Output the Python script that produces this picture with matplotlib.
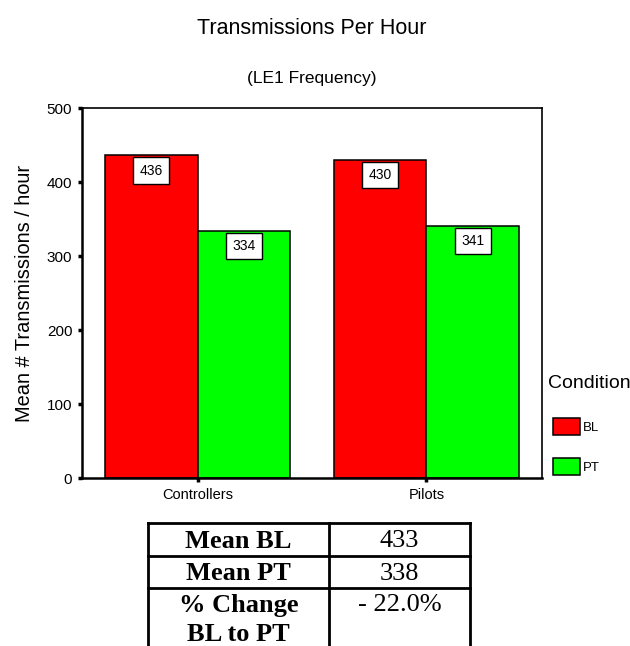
import numpy as np
import matplotlib
matplotlib.use('Agg')
import matplotlib.pyplot as plt
from matplotlib.patches import Rectangle

plt.rcParams['font.family'] = ['Liberation Sans', 'DejaVu Sans']

# 数据
groups = ['Controllers', 'Pilots']
conditions = ['BL', 'PT']
bl_values = [436, 430]
pt_values = [334, 341]
colors = ['#ff0000', '#00ff00']

table_labels = ['Mean BL', 'Mean PT', '% Change\nBL to PT']
table_values = ['433', '338', '- 22.0%']

fig = plt.figure(figsize=(6.3, 6.46), dpi=100)
W, H = 630, 646

# 主图
ax = fig.add_axes([82 / W, 1 - 478 / H, 460 / W, 370 / H])
x = np.arange(len(groups))
width = 0.405
bars1 = ax.bar(x - width / 2, bl_values, width, color=colors[0], edgecolor='black', linewidth=1.1, label=conditions[0])
bars2 = ax.bar(x + width / 2, pt_values, width, color=colors[1], edgecolor='black', linewidth=1.1, label=conditions[1])

for bars in (bars1, bars2):
    for b in bars:
        ax.annotate(f'{b.get_height():.0f}', (b.get_x() + b.get_width() / 2, b.get_height()),
                    xytext=(0, -11), textcoords='offset points', ha='center', va='center',
                    fontsize=10,
                    bbox=dict(boxstyle='square,pad=0.45', fc='white', ec='black', lw=1))

ax.set_xlim(-0.505, 1.505)
ax.set_ylim(0, 500)
ax.set_yticks([0, 100, 200, 300, 400, 500])
ax.set_xticks(x)
ax.set_xticklabels(groups, fontsize=10.5)
ax.tick_params(axis='y', direction='out', length=3, width=2.5, labelsize=11, pad=4)
ax.tick_params(axis='x', direction='out', length=3, width=2.5, pad=4)
for s in ax.spines.values():
    s.set_linewidth(1.2)
ax.spines['left'].set_linewidth(1.8)
ax.spines['bottom'].set_linewidth(1.8)
ax.set_ylabel('Mean # Transmissions / hour', fontsize=14.4, labelpad=9)

# 标题
fig.text(312 / W, 1 - 28 / H, 'Transmissions Per Hour', ha='center', va='center', fontsize=15.5)
fig.text(312 / W, 1 - 78 / H, '(LE1 Frequency)', ha='center', va='center', fontsize=12.5)

# 图例 (手动)
fig.text(548 / W, 1 - 383 / H, 'Condition', ha='left', va='center', fontsize=14)
leg_y = [418, 458]
for c, lab, yy in zip(colors, conditions, leg_y):
    fig.patches.append(Rectangle((553 / W, 1 - (yy + 17) / H), 27 / W, 17 / H,
                                 transform=fig.transFigure, facecolor=c,
                                 edgecolor='black', linewidth=1.1))
    fig.text(583 / W, 1 - (yy + 10) / H, lab, ha='left', va='center', fontsize=9.5)

# 表格
tax = fig.add_axes([0, 0, 1, 1])
tax.set_xlim(0, W)
tax.set_ylim(H, 0)
tax.axis('off')
col_x = [148, 329, 470]
row_y = [523, 556, 588, 660]
lw = 2
for yy in row_y[:-1]:
    tax.plot([col_x[0], col_x[-1]], [yy, yy], color='black', lw=lw)
for xx in col_x:
    tax.plot([xx, xx], [row_y[0], row_y[-1]], color='black', lw=lw)

serif = 'Liberation Serif'
for i, (lab, val) in enumerate(zip(table_labels, table_values)):
    top = row_y[i]
    if i < 2:
        yc = (row_y[i] + row_y[i + 1]) / 2 + 1.5
        tax.text((col_x[0] + col_x[1]) / 2, yc, lab, ha='center', va='center',
                 fontsize=19, fontweight='bold', family=serif)
        tax.text((col_x[1] + col_x[2]) / 2, yc, val, ha='center', va='center',
                 fontsize=19, family=serif)
    else:
        tax.text((col_x[0] + col_x[1]) / 2, top + 6, lab, ha='center', va='top',
                 fontsize=19, fontweight='bold', family=serif, linespacing=1.35)
        tax.text((col_x[1] + col_x[2]) / 2, top + 6, val, ha='center', va='top',
                 fontsize=19, family=serif)

fig.savefig('out.png', dpi=100)
